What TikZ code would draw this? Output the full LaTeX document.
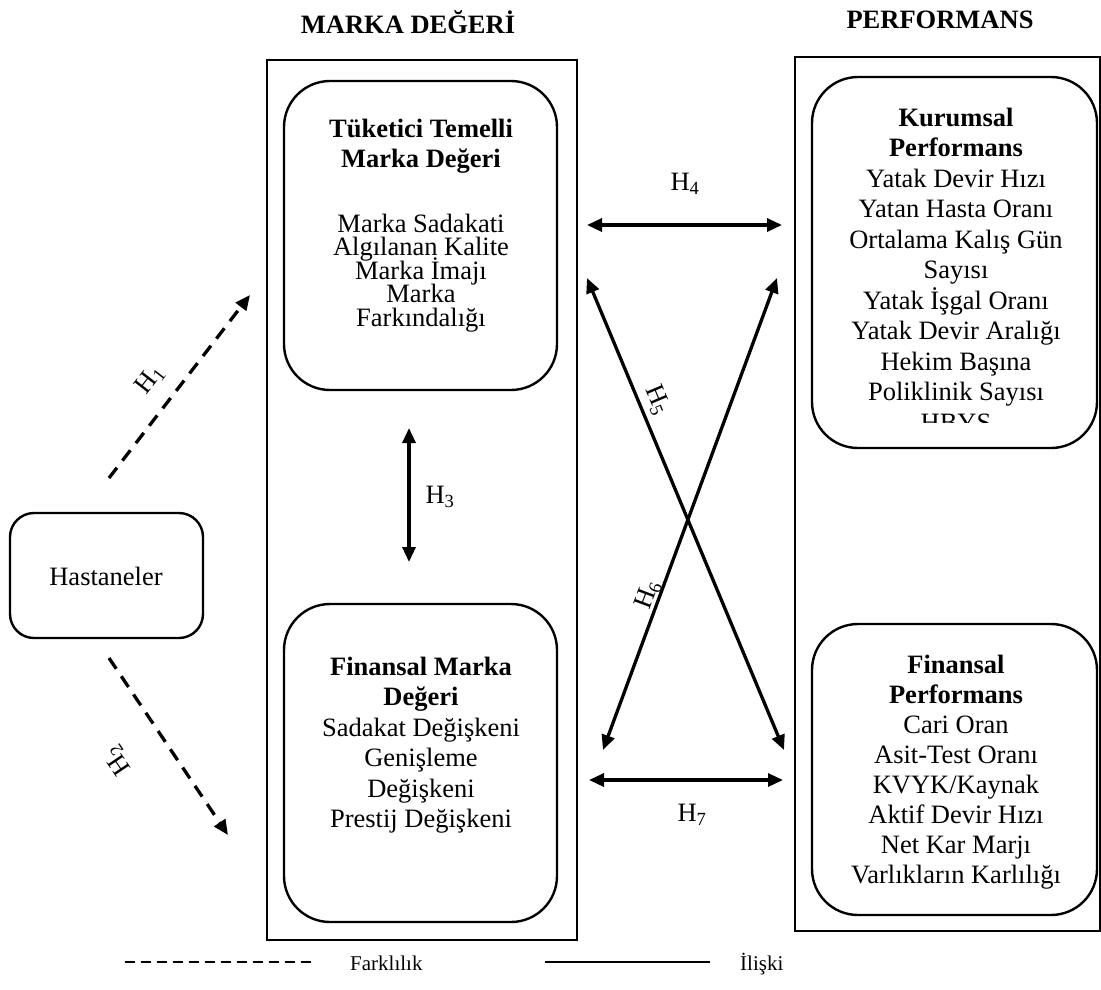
\documentclass[tikz,border=0pt]{standalone}
\usepackage{fontspec}
\setmainfont{Liberation Serif}
\usetikzlibrary{arrows.meta}
% text size with a fixed line pitch
\newcommand{\cardfont}[1]{\fontsize{26.5}{#1}\selectfont\lineskiplimit=-100pt\lineskip=0pt}
\begin{document}
\begin{tikzpicture}[x=1pt,y=-1pt,
  outerbox/.style={draw, line width=1.8pt, inner sep=0pt},
  card/.style={draw, line width=2.4pt, rounded corners=46pt, inner sep=0pt},
  cardtext/.style={anchor=north, align=center, inner sep=0pt},
  heading/.style={font=\cardfont{30}\bfseries, anchor=base, inner sep=0pt},
  hlabel/.style={font=\cardfont{30}, inner sep=0pt},
  legendtext/.style={font=\fontsize{21}{24}\selectfont, anchor=base west, inner sep=0pt},
  rel/.style={line width=3.3pt, {Triangle[length=15pt,width=13pt]}-{Triangle[length=15pt,width=13pt]}},
  diff/.style={line width=3.3pt, dash pattern=on 13pt off 9pt, -{Triangle[length=15pt,width=13pt]}},
]
\useasboundingbox (0,0) rectangle (1101,989);

% column headings
\node[heading] (hbrand) at (408,33) {MARKA DEĞERİ};
\node[heading] (hperf) at (940,28) {PERFORMANS};

% outer frames
\node[outerbox, minimum width=310pt, minimum height=880pt] (brand) at (422,500) {};
\node[outerbox, minimum width=305pt, minimum height=874pt] (perf) at (947.5,494) {};

% rounded cards
\node[card, minimum width=273pt, minimum height=309pt] (cbbe) at (420.5,235.5) {};
\node[card, minimum width=273pt, minimum height=318pt] (fbe) at (420.5,763) {};
\node[card, minimum width=285pt, minimum height=371pt] (corp) at (954.5,262.5) {};
\node[card, minimum width=285pt, minimum height=291pt] (fin) at (954.5,769.5) {};
\node[card, rounded corners=24pt, minimum width=193pt, minimum height=125pt] (hosp) at (106.5,575.5) {};

% card texts
\node[cardtext, font=\cardfont{23.5}] (tcbbe) at (421,113) {\rule{0pt}{24pt}\textbf{Tüketici Temelli}\\[6.5pt]\textbf{Marka Değeri}\\[41.5pt]Marka Sadakati\\Algılanan Kalite\\Marka İmajı\\Marka\\Farkındalığı};
\node[cardtext, font=\cardfont{30.5}] (tfbe) at (421,651) {\rule{0pt}{24pt}\textbf{Finansal Marka}\\\textbf{Değeri}\\Sadakat Değişkeni\\Genişleme\\Değişkeni\\Prestij Değişkeni};
\begin{scope}
  \clip (812,77) rectangle (1097,422);
  \node[cardtext, font=\cardfont{30.5}] (tcorp) at (956,102) {\rule{0pt}{24pt}\textbf{Kurumsal}\\\textbf{Performans}\\Yatak Devir Hızı\\Yatan Hasta Oranı\\Ortalama Kalış Gün\\Sayısı\\Yatak İşgal Oranı\\Yatak Devir Aralığı\\Hekim Başına\\Poliklinik Sayısı\\HBYS};
\end{scope}
\node[cardtext, font=\cardfont{30}] (tfin) at (956,649) {\rule{0pt}{24pt}\textbf{Finansal}\\\textbf{Performans}\\Cari Oran\\Asit-Test Oranı\\KVYK/Kaynak\\Aktif Devir Hızı\\Net Kar Marjı\\Varlıkların Karlılığı};
\node[font=\cardfont{30}, anchor=base, inner sep=0pt] (thosp) at (106,585) {Hastaneler};

% connector end points
\coordinate (h1a) at (109,478);  \coordinate (h1b) at (250,295);
\coordinate (h2a) at (109,658);  \coordinate (h2b) at (228,835);
\coordinate (h3a) at (409,428);  \coordinate (h3b) at (409,562);
\coordinate (h4a) at (587,225);  \coordinate (h4b) at (782,225);
\coordinate (h5a) at (587,278);  \coordinate (h5b) at (784,750);
\coordinate (h6a) at (603,750);  \coordinate (h6b) at (777,278);
\coordinate (h7a) at (589,780);  \coordinate (h7b) at (783,780);

% hypotheses: differences (dashed) and relations (solid)
\draw[diff] (h1a) -- (h1b);
\draw[diff] (h2a) -- (h2b);
\draw[rel] (h3a) -- (h3b);
\draw[rel] (h4a) -- (h4b);
\draw[rel] (h5a) -- (h5b);
\draw[rel] (h6a) -- (h6b);
\draw[rel] (h7a) -- (h7b);

\node[hlabel, rotate=52] (l1) at (150,380) {H\textsubscript{1}};
\node[hlabel, rotate=124] (l2) at (118,760) {H\textsubscript{2}};
\node[hlabel] (l3) at (440,497) {H\textsubscript{3}};
\node[hlabel] (l4) at (685,184) {H\textsubscript{4}};
\node[hlabel, rotate=-67] (l5) at (657,400) {H\textsubscript{5}};
\node[hlabel, rotate=69.5] (l6) at (648,595) {H\textsubscript{6}};
\node[hlabel] (l7) at (692,815) {H\textsubscript{7}};

% legend
\coordinate (lg1) at (125,962); \coordinate (lg2) at (317,962);
\coordinate (lg3) at (545,962); \coordinate (lg4) at (710,962);
\draw[line width=2.6pt, dash pattern=on 10pt off 6pt] (lg1) -- (lg2);
\node[legendtext] (tdiff) at (350,970) {Farklılık};
\draw[line width=2.6pt] (lg3) -- (lg4);
\node[legendtext] (trel) at (740,970) {İlişki};
\end{tikzpicture}
\end{document}
